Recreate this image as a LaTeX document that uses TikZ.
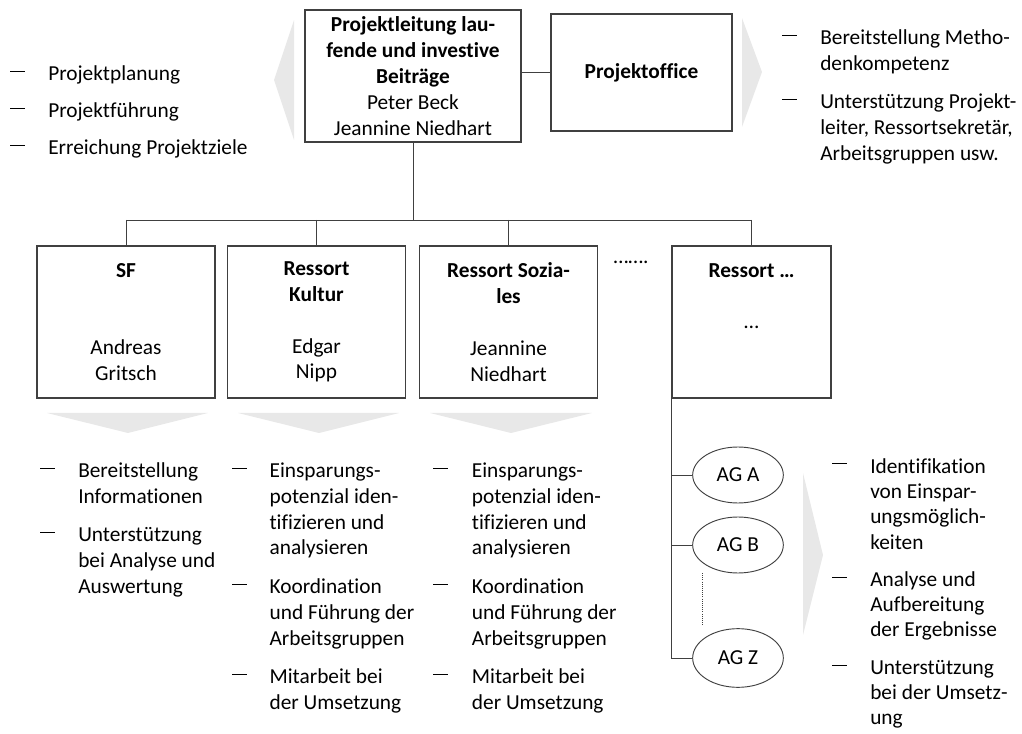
\documentclass[tikz,border=0pt]{standalone}
\usepackage{fontspec}
\setmainfont{Carlito}[Ligatures=NoCommon]
\usetikzlibrary{shapes.geometric}

\newcommand{\bdash}{\rule[0.4em]{11pt}{0.9pt}}
\newcommand{\dlist}[2]{\begin{tabular}{@{}p{#1}@{}l@{}}#2\end{tabular}}
\newcommand{\gapp}{\\[9.5pt]}

\begin{document}
\begin{tikzpicture}[
  x=0.75pt,y=-0.75pt,
  font=\fontsize{16}{19.4}\selectfont,
  orgbox/.style={draw=black!75, line width=0.8pt, align=center, inner sep=0pt},
  agnode/.style={draw=black!75, ellipse, line width=0.7pt, minimum width=68pt, minimum height=42pt, inner sep=0pt},
  conn/.style={draw=black!75, line width=0.7pt},
  lst/.style={anchor=north west, inner sep=0pt, align=left},
  shade/.style={fill=black!9}
]
\useasboundingbox (0,0) rectangle (1022,734);

% gray chevrons
\fill[shade] (294,20) -- (274,80) -- (294,140) -- cycle;
\fill[shade] (742,18) -- (762,72) -- (742,127) -- cycle;
\fill[shade] (47,413) -- (208,413) -- (128,433) -- cycle;
\fill[shade] (238,413) -- (399,413) -- (319,433) -- cycle;
\fill[shade] (430,413) -- (592,413) -- (511,433) -- cycle;
\fill[shade] (803,473) -- (823,555) -- (803,635) -- cycle;

% top level
\node[orgbox, minimum width=162pt, minimum height=99pt] (pl) at (413,76)
  {\textbf{Projektleitung lau-}\\\textbf{fende und investive}\\\textbf{Beiträge}\\Peter Beck\\Jeannine Niedhart};
\node[orgbox, minimum width=135.75pt, minimum height=87.75pt] (po) at (641.5,72.5) {\textbf{Projektoffice}};

% ressorts
\node[orgbox, minimum width=133.5pt, minimum height=114pt] (sf) at (126,322)
  {\textbf{SF}\\\mbox{}\\\mbox{}\\Andreas\\Gritsch};
\node[orgbox, minimum width=134pt, minimum height=114pt] (kul) at (316.5,322)
  {\textbf{Ressort}\\\textbf{Kultur}\\\mbox{}\\Edgar\\Nipp};
\node[orgbox, minimum width=134pt, minimum height=114pt] (soz) at (508.5,322)
  {\textbf{Ressort Sozia-}\\\textbf{les}\\\mbox{}\\Jeannine\\Niedhart};
\node[orgbox, minimum width=119.25pt, minimum height=114pt] (rx) at (751.5,322)
  {\textbf{Ressort …}\\\mbox{}\\…\\\mbox{}\\\mbox{}};
\node (dots) at (631,262) {…….};

% working groups
\node[agnode] (aga) at (738,475) {AG A};
\node[agnode] (agb) at (738,545) {AG B};
\node[agnode, minimum height=44pt] (agz) at (738,658) {AG Z};
\coordinate (dtop) at (702,573);
\coordinate (dbot) at (702,625);
\coordinate (bus) at (413,220);

% lines
\draw[conn] (po.west -| pl.east) -- (po.west);
\draw[conn] (pl.south) -- (bus);
\draw[conn] (sf.north |- bus) -- (rx.north |- bus);
\foreach \n in {sf,kul,soz,rx}
  \draw[conn] (\n.north |- bus) -- (\n.north);
\draw[conn] (rx.south west) -- (rx.south west |- agz.west) -- (agz.west);
\draw[conn] (rx.south west |- aga.west) -- (aga.west);
\draw[conn] (rx.south west |- agb.west) -- (agb.west);
\draw[draw=black!75, line width=0.6pt, densely dotted] (dtop) -- (dbot);

% task lists
\node[lst] (tl) at (10,62) {\dlist{28.5pt}{%
  \bdash & Projektplanung\\[8.5pt]
  \bdash & Projektführung\\[8.5pt]
  \bdash & Erreichung Projektziele}};
\node[lst] (tr) at (782,26) {\dlist{28.5pt}{%
  \bdash & Bereitstellung Metho-\\ & denkompetenz\gapp
  \bdash & Unterstützung Projekt-\\ & leiter, Ressortsekretär,\\ & Arbeitsgruppen usw.}};
\node[lst] (lsf) at (40,459) {\dlist{28.5pt}{%
  \bdash & Bereitstellung\\ & Informationen\gapp
  \bdash & Unterstützung\\ & bei Analyse und\\ & Auswertung}};
\node[lst] (lkul) at (232,459) {\dlist{28pt}{%
  \bdash & Einsparungs-\\ & potenzial iden-\\ & tifizieren und\\ & analysieren\gapp
  \bdash & Koordination\\ & und Führung der\\ & Arbeitsgruppen\gapp
  \bdash & Mitarbeit bei\\ & der Umsetzung}};
\node[lst] (lsoz) at (433,459) {\dlist{29pt}{%
  \bdash & Einsparungs-\\ & potenzial iden-\\ & tifizieren und\\ & analysieren\gapp
  \bdash & Koordination\\ & und Führung der\\ & Arbeitsgruppen\gapp
  \bdash & Mitarbeit bei\\ & der Umsetzung}};
\node[lst, font=\fontsize{16}{19}\selectfont] (lag) at (832,455) {\dlist{28.5pt}{%
  \bdash & Identifikation\\ & von Einspar-\\ & ungsmöglich-\\ & keiten\\[9pt]
  \bdash & Analyse und\\ & Aufbereitung\\ & der Ergebnisse\\[9pt]
  \bdash & Unterstützung\\ & bei der Umsetz-\\ & ung}};
\end{tikzpicture}
\end{document}
